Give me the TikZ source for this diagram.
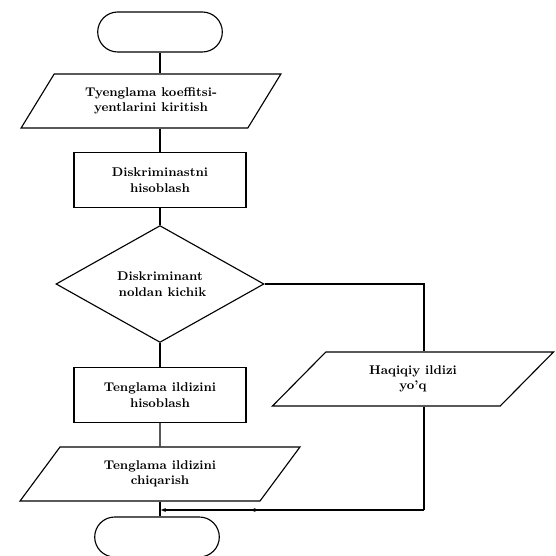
\documentclass[tikz,border=0pt]{standalone}
\usepackage{tikz}
\usetikzlibrary{shapes.geometric,shapes.misc,decorations.markings,arrows.meta}
\def\px{0.025cm}
\tikzset{
  term/.style={
    shape = rounded rectangle,
    draw,
    thick,
    minimum width = 134*\px,
    minimum height = 40*\px
  },
  io/.style={
    shape = trapezium,
    trapezium left angle = 50,
    trapezium right angle = 130,
    trapezium stretches = true,
    draw,
    thick,
    inner sep = 0pt,
    align = center,
    font = \small\bfseries,
    minimum height = 54*\px
  },
  proc/.style={
    shape = rectangle,
    draw,
    thick,
    align = center,
    font = \small\bfseries,
    minimum width = 172*\px,
    minimum height = 55*\px
  },
  decision/.style={
    shape = diamond,
    draw,
    thick,
    inner sep = 0pt,
    align = center,
    font = \small\bfseries,
    minimum width = 208*\px,
    minimum height = 115*\px
  },
  flow/.style={
    thick,
    postaction = {decorate},
    decoration = {markings,
      mark = at position 0.66 with {\arrow{Latex[length=4pt,width=3pt]}}}
  }
}
\begin{document}
\begin{tikzpicture}[x=\px, y=-\px]
    \useasboundingbox (0,0) rectangle (556,556);
    % blocks
    \node[term] (start) at (160,32) {};
    \node[io, minimum width=260*\px] (inp) at (151,101) {Tyenglama koeffitsi-\\yentlarini kiritish};
    \node[proc] (disc) at (160,180) {Diskriminastni\\hisoblash};
    \node[decision] (dec) at (160,284) {Diskriminant\\ \ noldan kichik};
    \node[proc] (root) at (160,395) {Tenglama ildizini\\hisoblash};
    \node[io, minimum width=280*\px] (outp) at (160,474) {Tenglama ildizini\\chiqarish};
    \node[io, minimum width=283*\px, trapezium left angle=45,
          trapezium right angle=135] (noroot) at (413,379) {Haqiqiy ildizi\\yo'q};
    \node[term] (stop) at (157,537) {};
    \coordinate (c1) at (424,284);
    \coordinate (j) at (160,510);
    % lines
    \draw[thick] (start.south) -- (start.south |- inp.north);
    \draw[thick] (disc.north |- inp.south) -- (disc.north);
    \draw[thick] (disc.south) -- (dec.north);
    \draw[thick] (dec.south) -- (root.north);
    \draw[thick] (root.south) -- (outp.north);
    \draw[thick] (outp.south) -- (outp.south |- stop.north);
    \draw[thick] (dec.east) -- (c1) -- (c1 |- noroot.north);
    \draw[thick] (c1 |- noroot.south) -- (c1 |- j);
    \draw[flow, -{Latex[length=4pt,width=3pt]}] (c1 |- j) -- (j);
\end{tikzpicture}
\end{document}
